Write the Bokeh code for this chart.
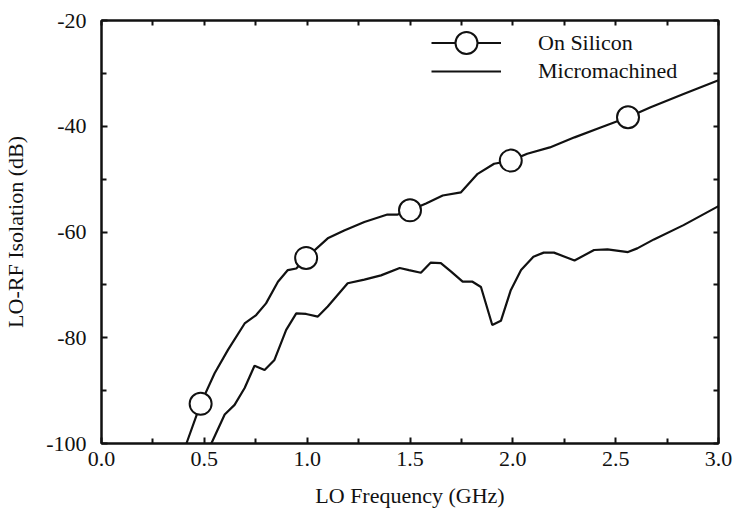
from bokeh.plotting import figure
from bokeh.models import (LinearAxis, FixedTicker, Range1d, Legend, LegendItem)
from bokeh.embed import file_html
from bokeh.resources import INLINE

# LO-RF isolation versus LO frequency
silicon_freq = [0.413, 0.482, 0.55, 0.615, 0.696, 0.752, 0.80, 0.858, 0.906, 0.947,
                0.995, 1.10, 1.18, 1.278, 1.39, 1.44, 1.50, 1.578, 1.659, 1.748,
                1.829, 1.909, 1.99, 2.07, 2.18, 2.30, 2.43, 2.56, 2.67, 2.83, 3.0]
silicon_db = [-100.0, -92.5, -86.7, -82.3, -77.3, -75.7, -73.5, -69.4, -67.2, -66.9,
              -64.9, -61.2, -59.7, -58.1, -56.7, -56.7, -55.9, -54.6, -53.1, -52.5,
              -49.0, -47.1, -46.5, -45.2, -44.0, -42.1, -40.2, -38.3, -36.4, -33.9, -31.3]

silicon_marker_freq = [0.482, 0.995, 1.50, 1.99, 2.56]
silicon_marker_db = [-92.5, -64.9, -55.9, -46.5, -38.3]

micro_freq = [0.534, 0.599, 0.647, 0.696, 0.744, 0.793, 0.841, 0.898, 0.947, 0.995,
              1.052, 1.10, 1.197, 1.278, 1.359, 1.45, 1.495, 1.553, 1.60, 1.65,
              1.70, 1.756, 1.804, 1.845, 1.90, 1.942, 1.99, 2.04, 2.10, 2.15,
              2.20, 2.30, 2.395, 2.46, 2.56, 2.605, 2.686, 2.83, 3.0]
micro_db = [-100.0, -94.5, -92.7, -89.5, -85.3, -86.1, -84.2, -78.5, -75.4, -75.5,
            -76.0, -74.1, -69.7, -69.0, -68.2, -66.8, -67.2, -67.7, -65.8, -65.9,
            -67.5, -69.4, -69.4, -70.4, -77.6, -76.8, -71.0, -67.2, -64.7, -63.9,
            -63.9, -65.4, -63.4, -63.3, -63.8, -63.1, -61.4, -58.7, -55.1]

x_major = [0.0, 0.5, 1.0, 1.5, 2.0, 2.5, 3.0]
x_tick_labels = ["0.0", "0.5", "1.0", "1.5", "2.0", "2.5", "3.0"]
x_minor = [0.25, 0.75, 1.25, 1.75, 2.25, 2.75]
y_major = [-100, -80, -60, -40, -20]
y_tick_labels = ["-100", "-80", "-60", "-40", "-20"]
y_minor = [-90, -70, -50, -30]

FONT = "Liberation Serif, Times New Roman, serif"
INK = "#111111"

p = figure(width=736, height=510, output_backend="svg", toolbar_location=None,
           x_range=Range1d(0, 3), y_range=Range1d(-100, -20),
           min_border_left=100, min_border_right=18,
           min_border_top=20, min_border_bottom=66,
           background_fill_color="white", border_fill_color="white")
p.grid.visible = False
p.outline_line_color = INK
p.outline_line_width = 2

p.xaxis.axis_label = "LO Frequency (GHz)"
p.yaxis.axis_label = "LO-RF Isolation (dB)"


def style_ticks(ax):
    ax.axis_line_color = INK
    ax.axis_line_width = 2
    ax.major_tick_in = 6
    ax.major_tick_out = 0
    ax.minor_tick_in = 5
    ax.minor_tick_out = 0
    ax.major_tick_line_color = INK
    ax.minor_tick_line_color = INK
    ax.major_tick_line_width = 2
    ax.minor_tick_line_width = 2


def style_labels(ax):
    ax.major_label_text_font = FONT
    ax.major_label_text_font_size = "22px"
    ax.major_label_text_color = INK
    ax.axis_label_text_font = FONT
    ax.axis_label_text_font_size = "22px"
    ax.axis_label_text_font_style = "normal"
    ax.axis_label_text_color = INK


xa = p.xaxis[0]
xa.ticker = FixedTicker(ticks=x_major, minor_ticks=x_minor)
xa.major_label_overrides = dict(zip(x_major, x_tick_labels))
style_ticks(xa)
style_labels(xa)
xa.major_label_standoff = 8
xa.axis_label_standoff = 14

ya = p.yaxis[0]
ya.ticker = FixedTicker(ticks=y_major, minor_ticks=y_minor)
ya.major_label_overrides = dict(zip(y_major, y_tick_labels))
style_ticks(ya)
style_labels(ya)
ya.major_label_standoff = 15
ya.axis_label_standoff = 15

# mirrored tick marks on the top and right edges, no labels
top_axis = LinearAxis(ticker=FixedTicker(ticks=[], minor_ticks=sorted(x_major + x_minor)))
style_ticks(top_axis)
p.add_layout(top_axis, "above")
right_axis = LinearAxis(ticker=FixedTicker(ticks=[], minor_ticks=sorted(y_major + y_minor)))
style_ticks(right_axis)
p.add_layout(right_axis, "right")

micro_line = p.line(micro_freq, micro_db, line_color=INK, line_width=2.2)
si_line = p.line(silicon_freq, silicon_db, line_color=INK, line_width=2.2)
si_marks = p.scatter(silicon_marker_freq, silicon_marker_db, marker="circle", size=22,
                     fill_color="white", line_color=INK, line_width=2)


def make_legend(item, loc, glyph_h):
    return Legend(items=[item], location=loc, orientation="vertical",
                  glyph_width=70, glyph_height=glyph_h, spacing=0,
                  label_standoff=37, padding=0, margin=0,
                  label_text_font=FONT, label_text_font_size="22px",
                  label_text_color=INK,
                  border_line_alpha=0, background_fill_alpha=0)


# the marker row needs a tall glyph box so its circle is drawn full size
p.add_layout(make_legend(LegendItem(label="On Silicon", renderers=[si_line, si_marks]),
                         (330, 373), 55))
p.add_layout(make_legend(LegendItem(label="Micromachined", renderers=[micro_line]),
                         (330, 358), 28))

open("out.html", "w").write(file_html(p, INLINE))
